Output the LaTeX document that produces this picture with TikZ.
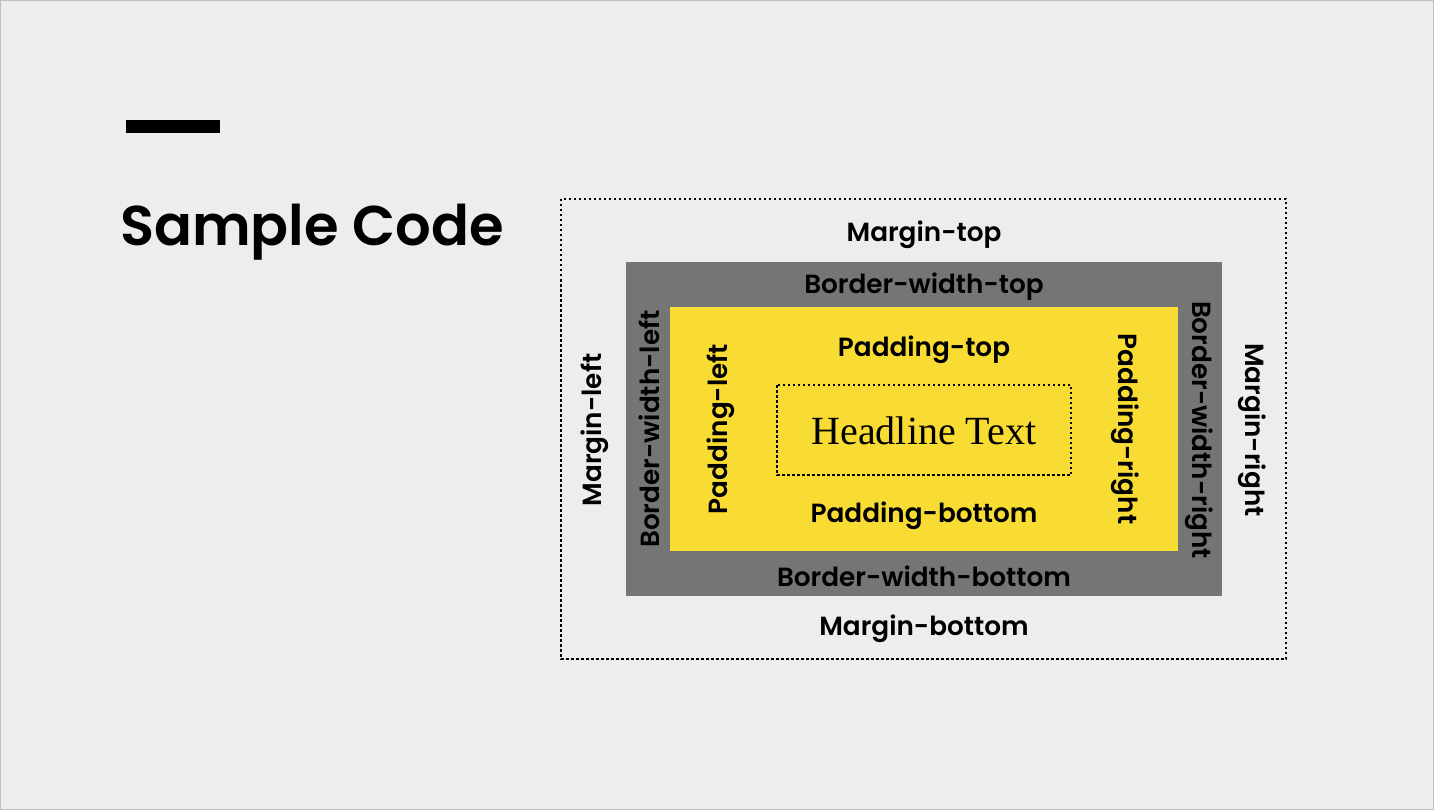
\documentclass[tikz,border=0pt]{standalone}
\usepackage{fontspec}
\setmainfont{Poppins}[BoldFont={Poppins SemiBold}]
\newfontfamily\serifhead{Liberation Serif}
\definecolor{bg}{HTML}{EDEDED}
\definecolor{bordergray}{HTML}{767575}
\definecolor{padyellow}{HTML}{F9DC33}
\begin{document}
\begin{tikzpicture}[x=1pt,y=-1pt,
  lbl/.style={font=\fontsize{26.3}{29}\selectfont\bfseries, text=black, inner sep=0pt},
  dotbox/.style={draw=black, line width=1.2pt, dash pattern=on 2.5pt off 2.5pt}]
\fill[bg] (0,0) rectangle (1434,810);
\draw[black!25, line width=1pt] (0.5,0.5) rectangle (1433.5,809.5);
\useasboundingbox (0,0) rectangle (1434,810);
% title
\fill[black] (126,120) rectangle (220,133);
\node[anchor=base west, inner sep=0pt, font=\fontsize{56}{62}\selectfont\bfseries] (title) at (120,246) {Sample Code};
% boxes
\draw[dotbox] (561,199) rectangle (1286,659);
\fill[bordergray] (626,262) rectangle (1222,596);
\fill[padyellow] (670,307) rectangle (1178,551);
\draw[dotbox] (777,385) rectangle (1071,475);
\node[inner sep=0pt, font=\serifhead\fontsize{40}{44}\selectfont] (head) at (924,431) {Headline Text};
% labels
\node[lbl] (mt) at (924,235) {Margin-top};
\node[lbl] (bt) at (924,287) {Border-width-top};
\node[lbl] (pt) at (924,350) {Padding-top};
\node[lbl] (pb) at (924,516) {Padding-bottom};
\node[lbl] (bb) at (924,576) {Border-width-bottom};
\node[lbl] (mb) at (924,629) {Margin-bottom};
\node[lbl, rotate=90] (ml) at (595,430) {Margin-left};
\node[lbl, rotate=90] (bl) at (649,429) {Border-width-left};
\node[lbl, rotate=90] (pl) at (721,429) {Padding-left};
\node[lbl, rotate=-90] (pr) at (1125,429) {Padding-right};
\node[lbl, rotate=-90] (br) at (1199,430) {Border-width-right};
\node[lbl, rotate=-90] (mr) at (1252,430) {Margin-right};
\end{tikzpicture}
\end{document}
